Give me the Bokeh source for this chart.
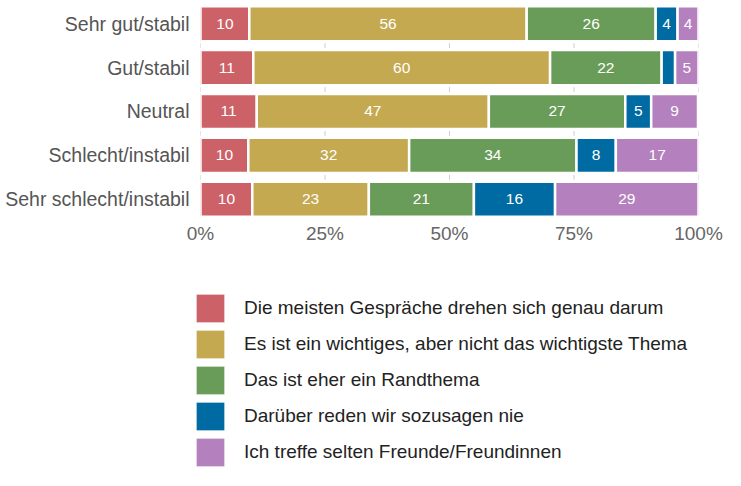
from bokeh.plotting import figure
from bokeh.layouts import column
from bokeh.models import ColumnDataSource, Range1d, FixedTicker, Legend, LegendItem
from bokeh.core.properties import value
from bokeh.embed import file_html
from bokeh.resources import INLINE

categories = ["Sehr gut/stabil", "Gut/stabil", "Neutral", "Schlecht/instabil", "Sehr schlecht/instabil"]
series_names = [
    "Die meisten Gespräche drehen sich genau darum",
    "Es ist ein wichtiges, aber nicht das wichtigste Thema",
    "Das ist eher ein Randthema",
    "Darüber reden wir sozusagen nie",
    "Ich treffe selten Freunde/Freundinnen",
]
meisten = [9.8, 10.6, 11.3, 9.6, 10.4]
wichtig = [55.7, 59.6, 46.6, 32.3, 23.4]
rand = [25.9, 22.4, 27.4, 33.6, 21.1]
nie = [4.4, 2.7, 5.2, 7.9, 16.3]
selten = [4.2, 4.7, 9.4, 16.6, 28.8]
colors = ["#CD6168", "#C4A951", "#6A9C59", "#006BA2", "#B480BD"]
x_ticks = [0, 25, 50, 75, 100]

series = [meisten, wichtig, rand, nie, selten]
keys = ["s%d" % i for i in range(len(series))]
ys = list(range(len(categories)))
data = {"y": ys}
for k, s in zip(keys, series):
    data[k] = s
src = ColumnDataSource(data)

FONT = "Liberation Sans"

p = figure(frame_width=498, frame_height=218,
           min_border_left=200, min_border_right=27, min_border_top=0, min_border_bottom=36,
           x_range=Range1d(0, 100), y_range=Range1d(4.44, -0.531),
           output_backend="svg", toolbar_location=None)
p.outline_line_color = None
p.grid.visible = False
p.background_fill_color = None
p.border_fill_color = None

# grid marks between rows
gx0, gy0, gy1 = [], [], []
for t in x_ticks:
    for i in range(len(categories) - 1):
        gx0.append(t)
        gy0.append(i + 0.5 - 0.055)
        gy1.append(i + 0.5 + 0.055)
p.segment(x0=gx0, x1=gx0, y0=gy0, y1=gy1, line_color="#cccccc", line_width=1)

renderers = p.hbar_stack(keys, y="y", height=0.8, source=src,
                         fill_color=colors, line_color="white", line_width=2.5)

# segment labels
lx, ly, lt = [], [], []
for j, y in enumerate(ys):
    start = 0.0
    for s in series:
        v = s[j]
        if v >= 3:
            lx.append(start + v / 2)
            ly.append(y)
            lt.append(str(int(round(v))))
        start += v
p.text(x=lx, y=ly, text=lt, text_color="white", text_align="center",
       text_baseline="middle", text_font=value(FONT), text_font_size="15.5px")

# axes
p.xaxis.ticker = FixedTicker(ticks=x_ticks)
p.xaxis.major_label_overrides = {t: "%d%%" % t for t in x_ticks}
p.xaxis.axis_line_color = None
p.xaxis.major_tick_line_color = None
p.xaxis.major_tick_out = 0
p.xaxis.minor_tick_line_color = None
p.xaxis.major_label_text_font = FONT
p.xaxis.major_label_text_font_size = "19px"
p.xaxis.major_label_text_color = "#666666"
p.xaxis.major_label_standoff = 4

p.yaxis.ticker = FixedTicker(ticks=ys)
p.yaxis.major_label_overrides = {y: c for y, c in zip(ys, categories)}
p.yaxis.axis_line_color = None
p.yaxis.major_tick_line_color = None
p.yaxis.major_tick_out = 0
p.yaxis.minor_tick_line_color = None
p.yaxis.major_label_text_font = FONT
p.yaxis.major_label_text_font_size = "19.5px"
p.yaxis.major_label_text_color = "#555555"
p.yaxis.major_label_standoff = 11

# legend panel
p2 = figure(frame_width=725, frame_height=216, min_border=0,
            x_range=Range1d(0, 100), y_range=Range1d(4.44, -0.531),
            x_axis_location=None, y_axis_location=None,
            output_backend="svg", toolbar_location=None)
p2.outline_line_color = None
p2.grid.visible = False
p2.background_fill_color = None
p2.border_fill_color = None
leg_renderers = p2.hbar_stack(keys, y="y", height=0.8, source=src,
                              fill_color=colors, line_color="white", line_width=1,
                              visible=False)

legend = Legend(items=[LegendItem(label=n, renderers=[r]) for n, r in zip(series_names, leg_renderers)],
                location=(192, 0), orientation="vertical",
                glyph_width=36, glyph_height=36, spacing=0, label_standoff=16,
                padding=0, margin=0, border_line_alpha=0, background_fill_alpha=0,
                label_text_font=FONT, label_text_font_size="19px", label_text_color="#222222")
p2.add_layout(legend, "center")

layout = column(p, p2, spacing=0)
open("out.html", "w").write(file_html(layout, INLINE))
